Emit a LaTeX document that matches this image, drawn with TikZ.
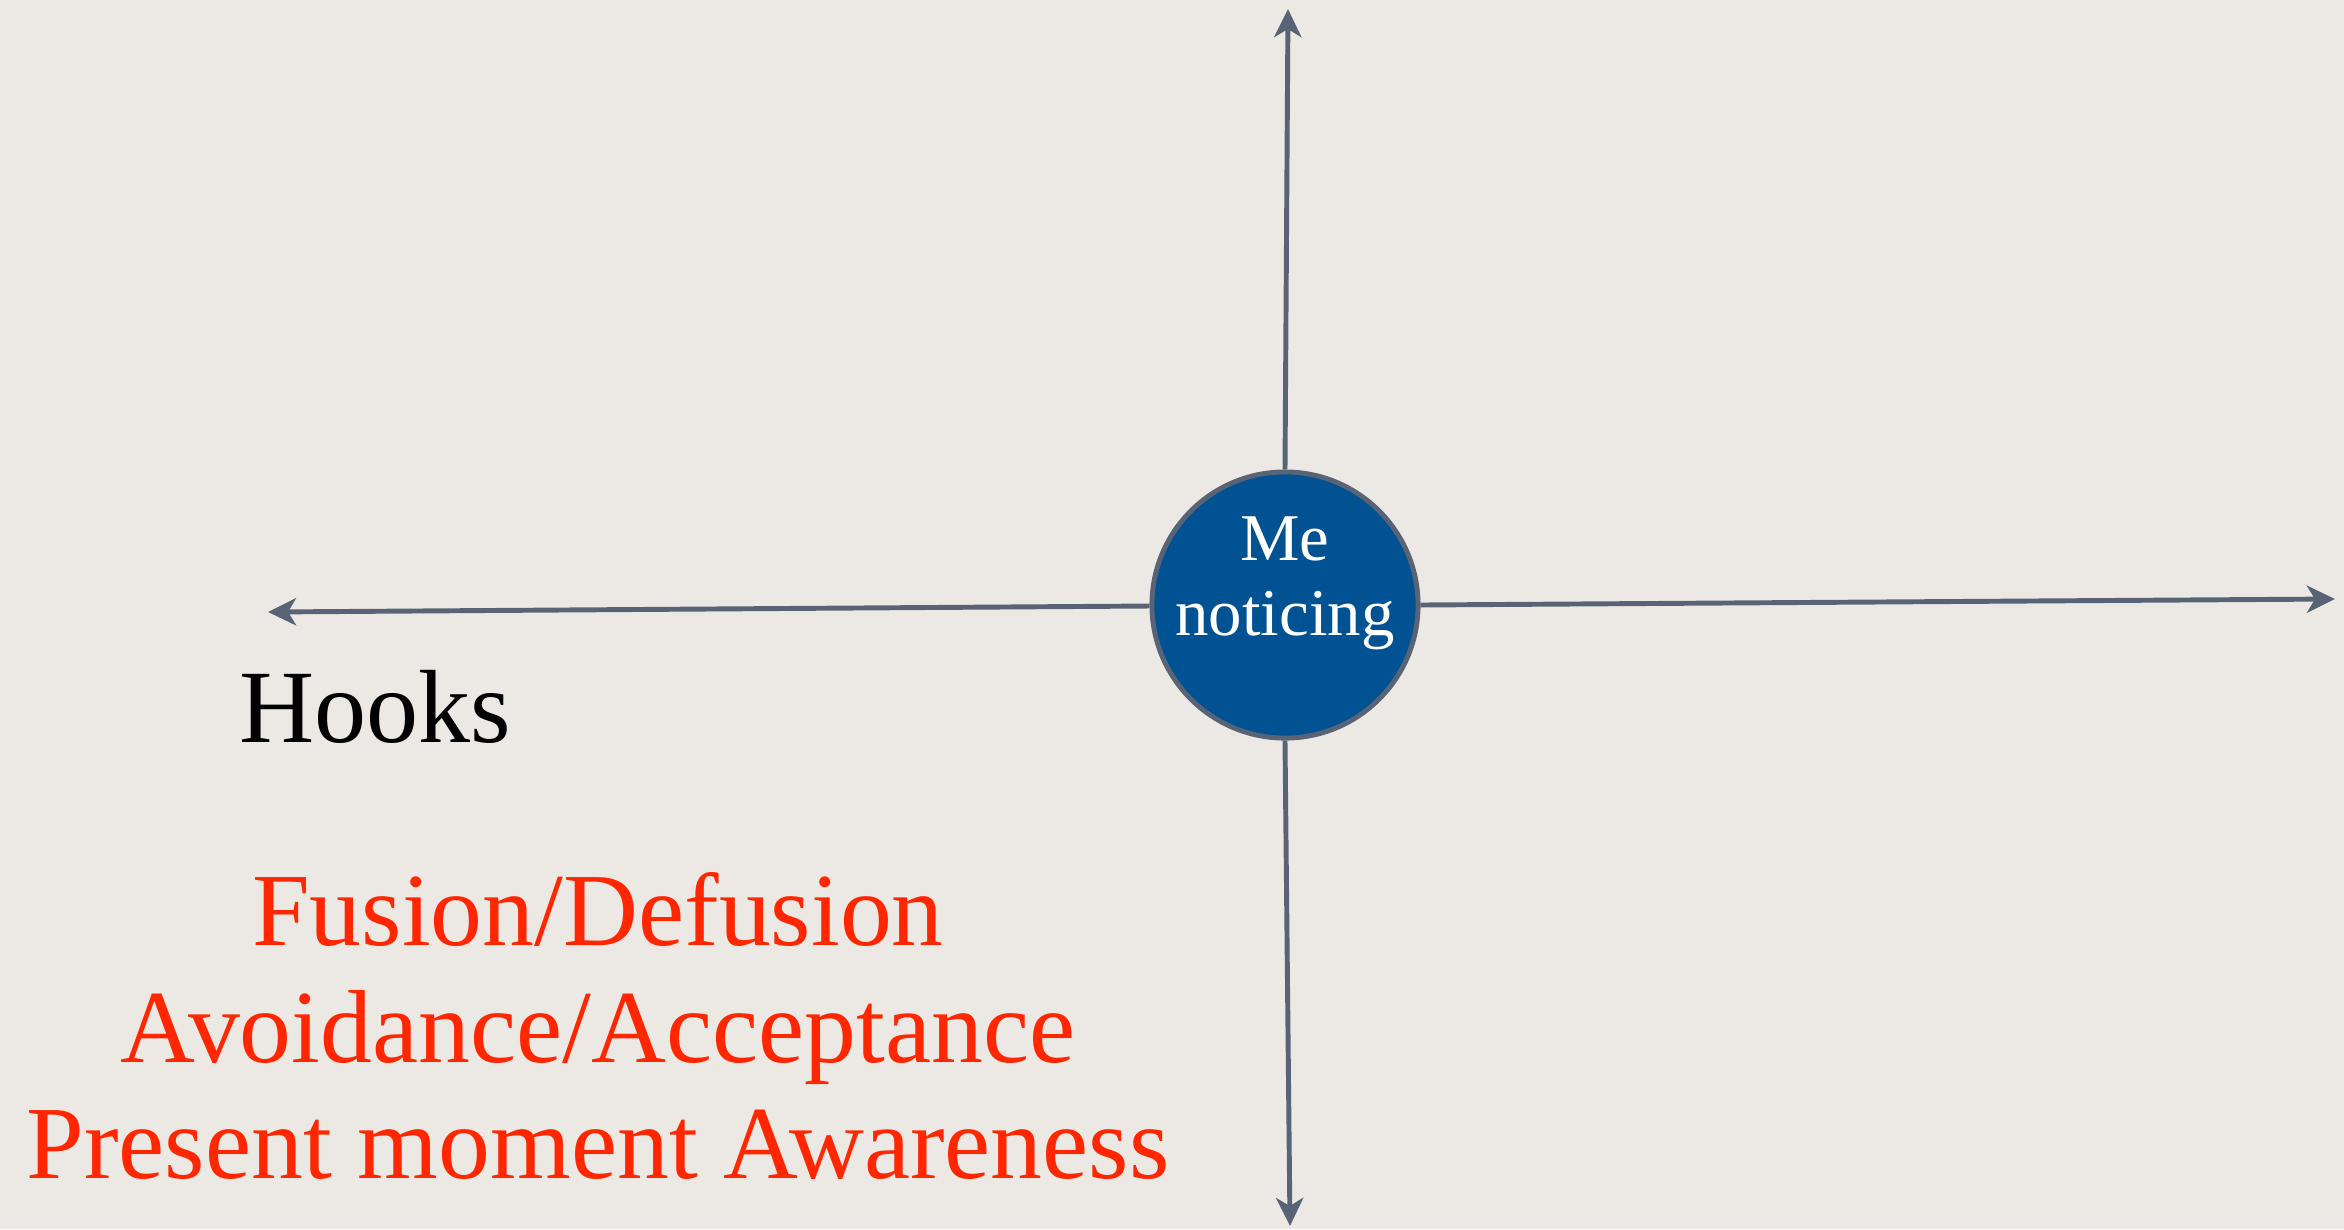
\documentclass[tikz,border=0pt]{standalone}
\usepackage{fontspec}
\setmainfont{Liberation Serif}
\usetikzlibrary{arrows.meta}

\definecolor{paper}{RGB}{236,233,229}
\definecolor{axisgray}{RGB}{88,100,118}
\definecolor{meblue}{RGB}{0,82,147}
\definecolor{hookred}{RGB}{255,38,0}

\tikzset{
  axis/.style={draw=axisgray, line width=1.4pt,
    -{Stealth[length=2.8mm, width=2.7mm, inset=0.8mm]}},
  disk/.style={circle, fill=meblue, draw=axisgray, line width=1.4pt,
    minimum size=2.66cm, inner sep=0pt},
  metext/.style={text=white, align=center, font=\fontsize{19}{21.3}\selectfont},
  hooklabel/.style={font=\fontsize{29.6}{33}\selectfont, anchor=base west, inner sep=0pt},
  hookitem/.style={text=hookred, font=\fontsize{29.5}{33}\selectfont, anchor=base, inner sep=0pt}
}

\begin{document}
\begin{tikzpicture}[x=0.01cm, y=-0.01cm]
    \fill[paper] (0,0) rectangle (2344,1229);

    \coordinate (top) at (1288,9);
    \coordinate (bottom) at (1290,1226);
    \coordinate (lft) at (268,612);
    \coordinate (rgt) at (2335,599);

    \node[disk] (me) at (1285,605) {};

    \draw[axis] (me.north) -- (top);
    \draw[axis] (me.south) -- (bottom);
    \draw[axis] (me.west) ++(0,1) -- (lft);
    \draw[axis] (me.east) -- (rgt);

    \node[metext] (metext) at (1285,583) {Me\\noticing};

    \node[hooklabel] (hooks) at (239,742) {Hooks};

    \node[hookitem] (fusion) at (598,945) {Fusion/Defusion};
    \node[hookitem] (avoid) at (598,1062) {Avoidance/Acceptance};
    \node[hookitem] (present) at (598,1178) {Present moment Awareness};
\end{tikzpicture}
\end{document}
